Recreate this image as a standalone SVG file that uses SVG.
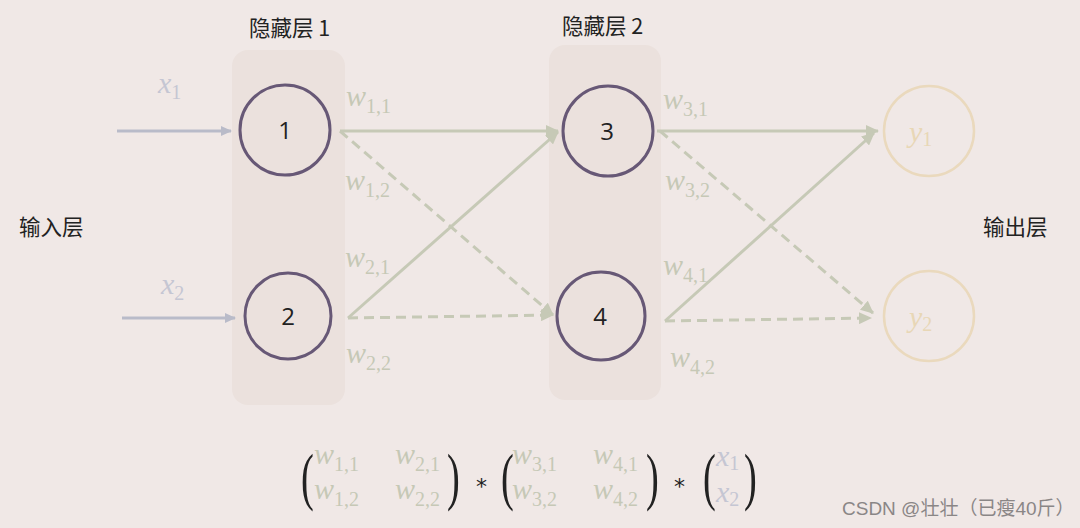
<svg xmlns="http://www.w3.org/2000/svg" width="1080" height="528" viewBox="0 0 1080 528">
<defs>
<marker id="ahG" markerUnits="userSpaceOnUse" markerWidth="14" markerHeight="12" refX="12" refY="6" orient="auto"><path d="M0,0 L13,6 L0,12 Z" fill="#c6c9b6"/></marker>
<marker id="ahB" markerUnits="userSpaceOnUse" markerWidth="12" markerHeight="12" refX="10" refY="5" orient="auto"><path d="M0,0 L11,5 L0,10 Z" fill="#b9bbc9"/></marker>
</defs>
<style>
.panel{fill:#ebe1dd}
.hn{fill:none;stroke:#675876;stroke-width:3}
.on{fill:none;stroke:#ead9bd;stroke-width:2.5}
.num{font-family:"Open Sans",sans-serif;font-size:24px;fill:#222;text-anchor:middle}
.cn{font-family:"Noto Sans CJK SC",sans-serif;font-size:21.5px;fill:#222}
.w{font-family:"Liberation Serif",serif;font-style:italic;font-size:30px;fill:#c6c8b6}
.s{font-style:normal;font-size:20px}
.xl{fill:#c5c6d3}
.yl{fill:#e8d7b6}
.g{stroke:#c6c9b6;stroke-width:3;fill:none;marker-end:url(#ahG)}
.d{stroke-dasharray:10,6}
.b{stroke:#b9bbc9;stroke-width:3;fill:none;marker-end:url(#ahB)}
.par{font-family:"Liberation Serif",serif;font-size:64px;fill:#222}
.op{font-family:"DejaVu Sans",sans-serif;font-size:22px;fill:#222}
</style>
<rect width="1080" height="528" fill="#f0e8e6"/>
<g id="panel1"><rect class="panel" x="232" y="50" width="113" height="355" rx="16"/></g>
<g id="panel2"><rect class="panel" x="549" y="45" width="112" height="355" rx="16"/></g>
<g id="connectors">
<line class="b" x1="117" y1="131" x2="231" y2="131"/>
<line class="b" x1="122" y1="318" x2="235" y2="318"/>
<line class="g" x1="340" y1="131" x2="558" y2="131"/>
<line class="g d" x1="340" y1="131" x2="553" y2="315"/>
<line class="g" x1="348" y1="318" x2="558" y2="132"/>
<line class="g d" x1="348" y1="318" x2="553" y2="315"/>
<line class="g" x1="657" y1="131" x2="878" y2="131"/>
<line class="g d" x1="660" y1="131" x2="873" y2="313"/>
<line class="g" x1="665" y1="321" x2="874" y2="133"/>
<line class="g d" x1="665" y1="321" x2="871" y2="318"/>
</g>
<g id="node1"><circle class="hn" cx="285" cy="130" r="45"/><text class="num" x="285" y="139">1</text></g>
<g id="node2"><circle class="hn" cx="288" cy="316" r="43"/><text class="num" x="288" y="325">2</text></g>
<g id="node3"><circle class="hn" cx="608" cy="131" r="45"/><text class="num" x="607" y="140">3</text></g>
<g id="node4"><circle class="hn" cx="601" cy="316" r="44"/><text class="num" x="600" y="325">4</text></g>
<g id="y1"><circle class="on" cx="929" cy="131" r="45"/><text class="w yl" x="909" y="142">y<tspan class="s" dy="4">1</tspan></text></g>
<g id="y2"><circle class="on" cx="929" cy="316" r="45"/><text class="w yl" x="909" y="327">y<tspan class="s" dy="4">2</tspan></text></g>
<g id="labels">
<text class="cn" x="19" y="235">输入层</text>
<text class="cn" x="983" y="235">输出层</text>
<text class="cn" x="249" y="36">隐藏层 1</text>
<text class="cn" x="562" y="34">隐藏层 2</text>
<text class="w xl" x="158" y="93">x<tspan class="s" dy="6">1</tspan></text>
<text class="w xl" x="161" y="294">x<tspan class="s" dy="6">2</tspan></text>
<text class="w" x="346" y="106">w<tspan class="s" dy="7">1,1</tspan></text>
<text class="w" x="345" y="190">w<tspan class="s" dy="7">1,2</tspan></text>
<text class="w" x="345" y="267">w<tspan class="s" dy="7">2,1</tspan></text>
<text class="w" x="346" y="363">w<tspan class="s" dy="7">2,2</tspan></text>
<text class="w" x="663" y="109">w<tspan class="s" dy="7">3,1</tspan></text>
<text class="w" x="665" y="190">w<tspan class="s" dy="7">3,2</tspan></text>
<text class="w" x="663" y="275">w<tspan class="s" dy="7">4,1</tspan></text>
<text class="w" x="670" y="367">w<tspan class="s" dy="7">4,2</tspan></text>
</g>
<g id="formula">
<text class="par" transform="translate(301,498) scale(0.6,1)">(</text>
<text class="w" x="314" y="464">w<tspan class="s" dy="7">1,1</tspan></text>
<text class="w" x="314" y="499">w<tspan class="s" dy="7">1,2</tspan></text>
<text class="w" x="395" y="464">w<tspan class="s" dy="7">2,1</tspan></text>
<text class="w" x="395" y="499">w<tspan class="s" dy="7">2,2</tspan></text>
<text class="par" transform="translate(447,498) scale(0.6,1)">)</text>
<text class="op" x="476" y="494">*</text>
<text class="par" transform="translate(501,498) scale(0.6,1)">(</text>
<text class="w" x="512" y="464">w<tspan class="s" dy="7">3,1</tspan></text>
<text class="w" x="512" y="499">w<tspan class="s" dy="7">3,2</tspan></text>
<text class="w" x="593" y="464">w<tspan class="s" dy="7">4,1</tspan></text>
<text class="w" x="593" y="499">w<tspan class="s" dy="7">4,2</tspan></text>
<text class="par" transform="translate(646,498) scale(0.6,1)">)</text>
<text class="op" x="674" y="494">*</text>
<text class="par" transform="translate(703,498) scale(0.6,1)">(</text>
<text class="w xl" x="716" y="466">x<tspan class="s" dy="4">1</tspan></text>
<text class="w xl" x="716" y="502">x<tspan class="s" dy="4">2</tspan></text>
<text class="par" transform="translate(744,498) scale(0.6,1)">)</text>
</g>
<text x="842" y="515" font-family="'Liberation Sans','Noto Sans CJK SC',sans-serif" font-size="19" fill="#8a8686">CSDN @壮壮（已瘦40斤）</text>
</svg>
